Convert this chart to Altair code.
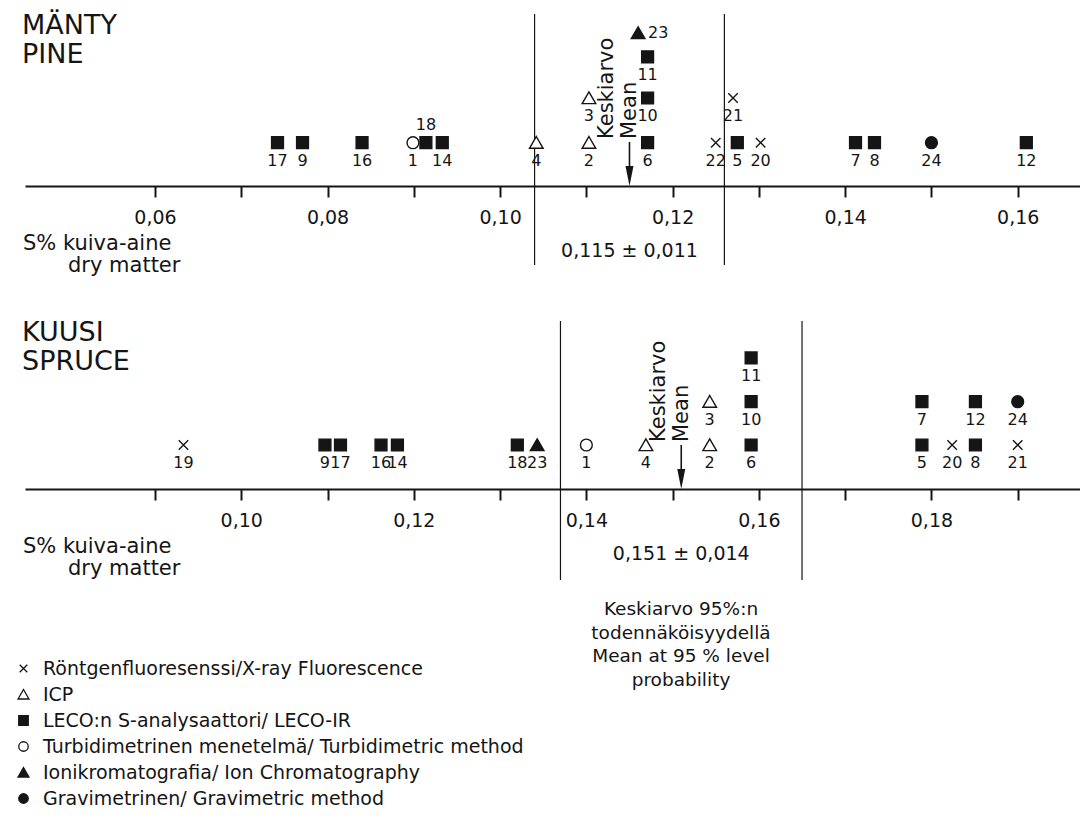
import altair as alt
import pandas as pd

# ---------------- data ----------------
METHODS = [
    "Röntgenfluoresenssi/X-ray Fluorescence",
    "ICP",
    "LECO:n S-analysaattori/ LECO-IR",
    "Turbidimetrinen menetelmä/ Turbidimetric method",
    "Ionikromatografia/ Ion Chromatography",
    "Gravimetrinen/ Gravimetric method",
]
X, I, L, T, C, G = METHODS

# Pine (Mänty)
pine_lab = ["17", "9", "16", "1", "18", "14", "4", "2", "3", "6", "10", "11", "23",
            "22", "5", "21", "20", "7", "8", "24", "12"]
pine_value = [0.0742, 0.0771, 0.0840, 0.0899, 0.0914, 0.0933, 0.1042, 0.1103, 0.1103,
              0.1171, 0.1171, 0.1171, 0.1160, 0.1250, 0.1275, 0.1270, 0.1302, 0.1412,
              0.1434, 0.1500, 0.1610]
pine_method = [L, L, L, T, L, L, I, I, I, L, L, L, C, X, L, X, X, L, L, G, L]
pine_row = [1, 1, 1, 1, 1, 1, 1, 1, 2, 1, 2, 3, 4, 1, 1, 2, 1, 1, 1, 1, 1]
pine_mean = 0.115
pine_ci = 0.011
pine_ticks = [0.06, 0.07, 0.08, 0.09, 0.10, 0.11, 0.12, 0.13, 0.14, 0.15, 0.16]

# Spruce (Kuusi)
spruce_lab = ["19", "9", "17", "16", "14", "18", "23", "1", "4", "2", "3", "6", "10", "11",
              "5", "7", "20", "8", "12", "21", "24"]
spruce_value = [0.0933, 0.1097, 0.1115, 0.1162, 0.1181, 0.1320, 0.1343, 0.1400, 0.1469,
                0.1543, 0.1543, 0.1591, 0.1591, 0.1591, 0.1789, 0.1789, 0.1824, 0.1851,
                0.1851, 0.1900, 0.1900]
spruce_method = [X, L, L, L, L, L, C, T, I, I, I, L, L, L, L, L, X, L, L, X, G]
spruce_row = [1, 1, 1, 1, 1, 1, 1, 1, 1, 1, 2, 1, 2, 3, 1, 2, 1, 1, 2, 1, 2]
spruce_mean = 0.151
spruce_ci = 0.014
spruce_ticks = [0.09, 0.10, 0.11, 0.12, 0.13, 0.14, 0.15, 0.16, 0.17, 0.18, 0.19]

# ---------------- style ----------------
FONT = "DejaVu Sans"
INK = "#151515"
W, H = 1072, 803
TRI = "M0,-1.05L1.15,0.95L-1.15,0.95Z"
SHAPES = ["M-0.8,-0.8L0.8,0.8M0.8,-0.8L-0.8,0.8", TRI, "square", "circle", TRI, "circle"]
FILLS = ["transparent", "white", INK, "white", INK, INK]
ARROW = "M-0.4,-1L0,1L0.4,-1Z"

legend = alt.Legend(orient="none", legendX=6, legendY=651, title=None,
                    labelFont=FONT, labelFontSize=19, labelColor=INK, labelLimit=800,
                    symbolSize=90, symbolStrokeWidth=1.3,
                    rowPadding=6, labelOffset=10)
shape_enc = alt.Shape("method:N", scale=alt.Scale(domain=METHODS, range=SHAPES), legend=legend)
fill_enc = alt.Fill("method:N", scale=alt.Scale(domain=METHODS, range=FILLS), legend=legend)
stroke_enc = alt.Stroke("method:N", scale=alt.Scale(domain=METHODS, range=[INK] * 6), legend=legend)


def make_axis(ticks, axis_y):
    return alt.Axis(values=ticks, orient="bottom", offset=axis_y - H, title=None, grid=False,
                    domainColor=INK, domainWidth=2, tickColor=INK, tickWidth=2, tickSize=11,
                    labelFont=FONT, labelFontSize=19, labelColor=INK, labelPadding=11,
                    labelExpr="round(datum.value*100) % 2 == 0 ? "
                              "replace(format(datum.value, '.2f'), '.', ',') : ''",
                    labelFlush=False, labelOverlap=False, labelBound=False)


def panel(labs, values, methods, rows, mean, ci, ticks, x0, axis_y, row_px,
          ci_y, arrow_y, text_y, above=(), right=()):
    df = pd.DataFrame({"lab": labs, "value": values, "method": methods, "row": rows})
    st = pd.DataFrame({"mean": [mean], "lo": [round(mean - ci, 4)], "hi": [round(mean + ci, 4)],
                       "txt": [f"{mean:.3f} ± {ci:.3f}".replace(".", ",")]})
    step = 0.01 / 86.27  # value per pixel
    xs = alt.Scale(domain=[x0 - 130 * step, x0 + 926 * step], range=[17, 1073], nice=False, zero=False)
    ax = make_axis(ticks, axis_y)
    ys = alt.Scale(domain=list(range(1, len(row_px) + 1)), range=row_px, nice=False, zero=False)

    base = alt.Chart(df)
    pts = base.mark_point(size=140, strokeWidth=1.4, opacity=1).encode(
        x=alt.X("value:Q", scale=xs, axis=ax),
        y=alt.Y("row:Q", scale=ys, axis=None),
        shape=shape_enc, fill=fill_enc, stroke=stroke_enc)
    special = list(above) + list(right)
    lab_txt = dict(font=FONT, fontSize=16, color=INK, baseline="middle")
    below = base.transform_filter(~alt.FieldOneOfPredicate(field="lab", oneOf=special or ["-"])) \
        .mark_text(dy=18, align="center", **lab_txt).encode(
        x=alt.X("value:Q", scale=xs, axis=ax), y=alt.Y("row:Q", scale=ys, axis=None), text="lab:N")
    layers = [pts, below]
    if above:
        layers.append(base.transform_filter(alt.FieldOneOfPredicate(field="lab", oneOf=list(above)))
                      .mark_text(dy=-18, align="center", **lab_txt).encode(
            x=alt.X("value:Q", scale=xs, axis=ax), y=alt.Y("row:Q", scale=ys, axis=None), text="lab:N"))
    if right:
        layers.append(base.transform_filter(alt.FieldOneOfPredicate(field="lab", oneOf=list(right)))
                      .mark_text(dx=10, align="left", **lab_txt).encode(
            x=alt.X("value:Q", scale=xs, axis=ax), y=alt.Y("row:Q", scale=ys, axis=None), text="lab:N"))

    sb = alt.Chart(st)
    lines = [
        sb.mark_rule(color=INK, strokeWidth=1.2).encode(
            x=alt.X(f, type="quantitative", scale=xs, axis=ax),
            y=alt.value(ci_y[0]), y2=alt.value(ci_y[1]))
        for f in ("lo", "hi")
    ]
    arrow = sb.mark_rule(color=INK, strokeWidth=1.6).encode(
        x=alt.X("mean:Q", scale=xs, axis=ax), y=alt.value(arrow_y[0]), y2=alt.value(arrow_y[1] - 10))
    head = sb.mark_point(shape=ARROW, size=400, filled=True, color=INK, opacity=1).encode(
        x=alt.X("mean:Q", scale=xs, axis=ax), y=alt.value(arrow_y[1] - 10))
    rot = dict(font=FONT, fontSize=21, color=INK, angle=270, align="left", baseline="middle")
    kesk = sb.mark_text(text="Keskiarvo", **rot).encode(
        x=alt.X("mean:Q", scale=xs, axis=ax), xOffset=alt.value(-22), y=alt.value(arrow_y[0] - 3))
    mean_t = sb.mark_text(text="Mean", **rot).encode(
        x=alt.X("mean:Q", scale=xs, axis=ax), xOffset=alt.value(1), y=alt.value(arrow_y[0] - 3))
    ci_txt = sb.mark_text(font=FONT, fontSize=19, color=INK, align="center", baseline="middle").encode(
        x=alt.X("mean:Q", scale=xs, axis=ax), y=alt.value(text_y), text="txt:N")
    return alt.layer(*lines, arrow, head, kesk, mean_t, ci_txt, *layers)


top = panel(pine_lab, pine_value, pine_method, pine_row, pine_mean, pine_ci, pine_ticks,
            0.06, 178, [134.7, 90, 48.8, 25], (6, 257), (134, 178), 243,
            above=("18",), right=("23",))
bottom = panel(spruce_lab, spruce_value, spruce_method, spruce_row, spruce_mean, spruce_ci,
               spruce_ticks, 0.09, 481, [437, 393.7, 349.9], (313, 572), (437, 481), 546)


def label(txt, x, y, size, align="left", lh=None):
    kw = dict(font=FONT, fontSize=size, color=INK, align=align, baseline="top")
    if lh:
        kw.update(lineBreak="\n", lineHeight=lh)
    return alt.Chart(pd.DataFrame({"t": [txt]})).mark_text(**kw).encode(
        text="t:N", x=alt.value(x), y=alt.value(y))


texts = [
    label("MÄNTY\nPINE", 14, 5, 27, lh=29),
    label("KUUSI\nSPRUCE", 14, 312, 27, lh=29),
    label("S% kuiva-aine", 15, 225, 21),
    label("dry matter", 60, 247, 21),
    label("S% kuiva-aine", 15, 528, 21),
    label("dry matter", 60, 550, 21),
    label("Keskiarvo 95%:n\ntodennäköisyydellä\nMean at 95 % level\nprobability",
          673, 592, 18.5, align="center", lh=23.5),
]

chart = alt.layer(top, bottom, *texts).resolve_scale(
    x="independent", y="independent"
).properties(
    width=W, height=H, padding=0, autosize=alt.AutoSizeParams(type="none"), background="white"
).configure_view(stroke=None)

chart.save("out.html", embed_options={"renderer": "svg", "actions": False})
